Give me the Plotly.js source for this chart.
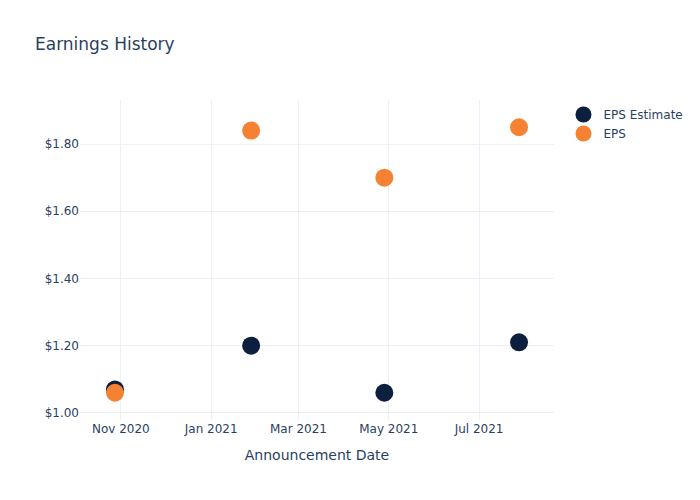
<!DOCTYPE html>
<html><head><meta charset="utf-8">
<script src="https://cdn.plot.ly/plotly-3.0.1.min.js"></script>
<style>html,body{margin:0;padding:0;}</style>
</head><body>
<div id="chart" style="width:700px;height:500px;"></div>
<script>
const dates = ["2020-10-28", "2021-01-28", "2021-04-28", "2021-07-28"];
const epsEstimate = [1.07, 1.20, 1.06, 1.21];
const eps = [1.06, 1.84, 1.70, 1.85];

const traces = [
  {type: "scatter", mode: "markers", name: "EPS Estimate", x: dates, y: epsEstimate,
   marker: {color: "#0c1f3f", size: 18}},
  {type: "scatter", mode: "markers", name: "EPS", x: dates, y: eps,
   marker: {color: "#f58232", size: 18}}
];
const layout = {
  width: 700, height: 500,
  paper_bgcolor: "white", plot_bgcolor: "white",
  font: {family: "'DejaVu Sans', verdana, sans-serif", color: "#2a3f5f", size: 12},
  title: {text: "Earnings History", x: 0.05, font: {size: 17, color: "#2a3f5f"}},
  xaxis: {title: {text: "Announcement Date", font: {size: 14}, standoff: 15}, type: "date",
          gridcolor: "#EBF0F8", zerolinecolor: "#EBF0F8", showline: false, ticks: "", tickformat: "%b %Y"},
  yaxis: {tickprefix: "$", tickformat: ".2f", gridcolor: "#EBF0F8", zerolinecolor: "#EBF0F8", ticks: ""},
  legend: {font: {size: 12}},
  hovermode: "closest"
};
Plotly.newPlot("chart", traces, layout, {displayModeBar: false});
</script>
</body></html>
